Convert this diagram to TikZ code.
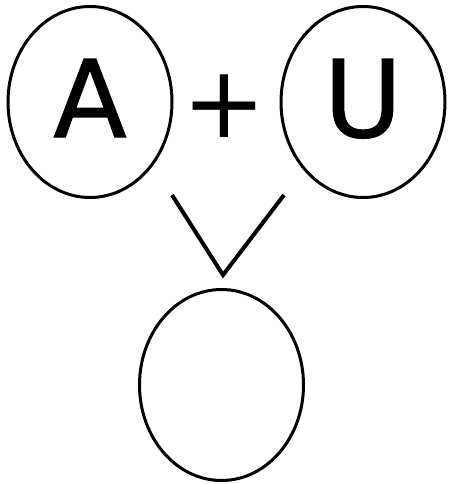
\documentclass[tikz,border=0pt]{standalone}
\usepackage{fontspec}
\setmainfont{DejaVu Sans}
\newfontfamily\letterfont[FakeBold=1]{DejaVu Sans}
\usetikzlibrary{positioning,shapes.geometric}

\begin{document}
\begin{tikzpicture}[
  x=1pt, y=-1pt,
  bubble/.style={draw, ellipse, line width=3pt, inner sep=0pt, minimum width=164pt, minimum height=191pt, text depth=8pt, font=\letterfont\fontsize{107}{107}\selectfont},
  sign/.style={inner sep=0pt, font=\fontsize{100}{100}\selectfont},
  vline/.style={line width=4pt},
]
  \useasboundingbox (0,0) rectangle (448,484);

  % Top row
  \node[bubble] (a) at (90,102) {A};
  \node[bubble] (u) at (363,102) {U};
  \node[sign] (plus) at (224,106) {+};

  % Result
  \node[bubble] (res) at (221.5,385) {};

  % Arrow-like V between the rows
  \coordinate (vl) at (172,195);
  \coordinate (vtip) at (223,275);
  \coordinate (vr) at (284,195);
  \draw[vline] (vl) -- (vtip) -- (vr);
\end{tikzpicture}
\end{document}
